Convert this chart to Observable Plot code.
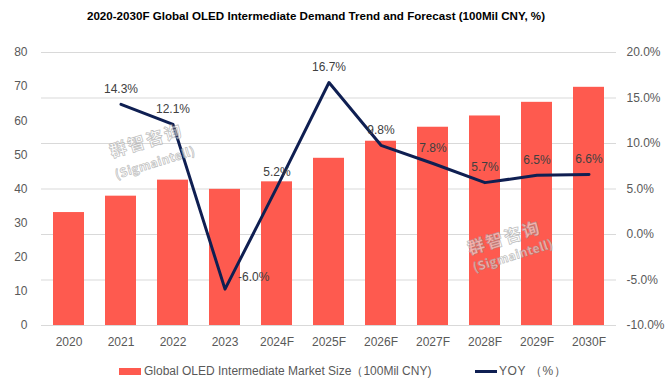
<!DOCTYPE html>
<html>
<head>
<meta charset="utf-8">
<script src="https://cdn.jsdelivr.net/npm/d3@7"></script>
<script src="https://cdn.jsdelivr.net/npm/@observablehq/plot@0.6"></script>
<style>
  body { margin: 0; background: #fff; font-family: "Liberation Sans", Arial, sans-serif; }
  #wrap { position: relative; width: 672px; height: 388px; overflow: hidden; }
  #title { height: 34px; line-height: 32px; text-align: center; padding-right: 40px;
           font-weight: bold; font-size: 11.6px; color: #000; }
  #legend { position: relative; height: 33px; font-size: 12px; color: #595959; }
  .item { position: absolute; top: 0; height: 33px; display: flex; align-items: center; white-space: nowrap; }
  .wm { position: absolute; font-weight: bold; color: rgba(255,255,255,0.55);
        -webkit-text-stroke: 0.8px rgba(140,140,140,0.55); transform: rotate(-17deg);
        font-family: "Noto Sans CJK SC", "Liberation Sans", sans-serif; white-space: nowrap; }
</style>
</head>
<body>
<div id="wrap">
  <div id="title"></div>
  <div id="chart"></div>
  <div id="legend"></div>
</div>
<script>
const titleText = "2020-2030F Global OLED Intermediate Demand Trend and Forecast (100Mil CNY, %)";
const categories = ["2020", "2021", "2022", "2023", "2024F", "2025F", "2026F", "2027F", "2028F", "2029F", "2030F"];
const marketSize = [33.1, 37.9, 42.6, 39.9, 42.1, 49.0, 54.0, 58.1, 61.4, 65.4, 69.8];
const yoy = [null, 14.3, 12.1, -6.0, 5.2, 16.7, 9.8, 7.8, 5.7, 6.5, 6.6];
const leftTicks = [0, 10, 20, 30, 40, 50, 60, 70, 80];
const rightTicks = [-10, -5, 0, 5, 10, 15, 20];
const seriesNames = ["Global OLED Intermediate Market Size（100Mil CNY)", "YOY （%）"];
const watermark = ["群智咨询", "(Sigmaintell)"];

const barColor = "#fe5a4f";
const lineColor = "#0f1f52";

// map right-axis (YOY %) onto the left scale domain
const leftDomain = [0, 80], rightDomain = [-10, 20];
const toLeft = v => leftDomain[0] + (v - rightDomain[0]) * (leftDomain[1] - leftDomain[0]) / (rightDomain[1] - rightDomain[0]);
const fromLeft = v => rightDomain[0] + (v - leftDomain[0]) * (rightDomain[1] - rightDomain[0]) / (leftDomain[1] - leftDomain[0]);

const rows = categories.map((c, i) => ({cat: c, size: marketSize[i], yoy: yoy[i]}));
const yoyRows = rows.filter(d => d.yoy != null);

document.getElementById("title").textContent = titleText;

const chart = Plot.plot({
  width: 672,
  height: 321,
  marginLeft: 41,
  marginRight: 56,
  marginTop: 18,
  marginBottom: 30,
  style: {fontFamily: "'Liberation Sans', Arial, sans-serif", fontSize: "12px", color: "#595959", background: "transparent"},
  x: {type: "band", domain: categories, paddingInner: 0.41, paddingOuter: 0.205, label: null},
  y: {domain: leftDomain, label: null},
  marks: [
    Plot.gridY(rightTicks.map(toLeft), {stroke: "#d9d9d9", strokeOpacity: 1}),
    Plot.barY(rows, {x: "cat", y: "size", fill: barColor}),
    Plot.axisY(leftTicks, {anchor: "left", tickSize: 0, tickPadding: 14, label: null}),
    Plot.axisY(rightTicks.map(toLeft), {anchor: "right", tickSize: 0, tickPadding: 10, label: null,
      tickFormat: v => fromLeft(v).toFixed(1) + "%"}),
    Plot.axisX({tickSize: 0, tickPadding: 12, label: null}),
    Plot.lineY(yoyRows, {x: "cat", y: d => toLeft(d.yoy), stroke: lineColor, strokeWidth: 3}),
    Plot.text(yoyRows.filter(d => d.yoy >= 0), {x: "cat", y: d => toLeft(d.yoy),
      text: d => d.yoy.toFixed(1) + "%", dy: -15, fill: "#404040", fontSize: 12}),
    Plot.text(yoyRows.filter(d => d.yoy < 0), {x: "cat", y: d => toLeft(d.yoy),
      text: d => d.yoy.toFixed(1) + "%", dx: 13, dy: -12, textAnchor: "start", fill: "#404040", fontSize: 12})
  ]
});
document.getElementById("chart").appendChild(chart);

// legend
const legend = document.getElementById("legend");
legend.innerHTML =
  `<div class="item" style="left:119px"><span style="display:inline-block;width:22px;height:7px;background:${barColor};margin-right:3px"></span><span>${seriesNames[0]}</span></div>` +
  `<div class="item" style="left:475px"><span style="display:inline-block;width:22px;height:3px;background:${lineColor};margin-right:2px"></span><span style="letter-spacing:0.6px">${seriesNames[1]}</span></div>`;

// watermarks
const wrap = document.getElementById("wrap");
[[108, 127, 113, 153], [466, 224, 471, 246]].forEach(([x1, y1, x2, y2]) => {
  const a = document.createElement("div");
  a.className = "wm"; a.style.left = x1 + "px"; a.style.top = y1 + "px"; a.style.fontSize = "17px";
  a.style.letterSpacing = "2px";
  a.textContent = watermark[0]; wrap.appendChild(a);
  const b = document.createElement("div");
  b.className = "wm"; b.style.left = x2 + "px"; b.style.top = y2 + "px"; b.style.fontSize = "12px";
  b.style.letterSpacing = "0.5px";
  b.textContent = watermark[1]; wrap.appendChild(b);
});
</script>
</body>
</html>
